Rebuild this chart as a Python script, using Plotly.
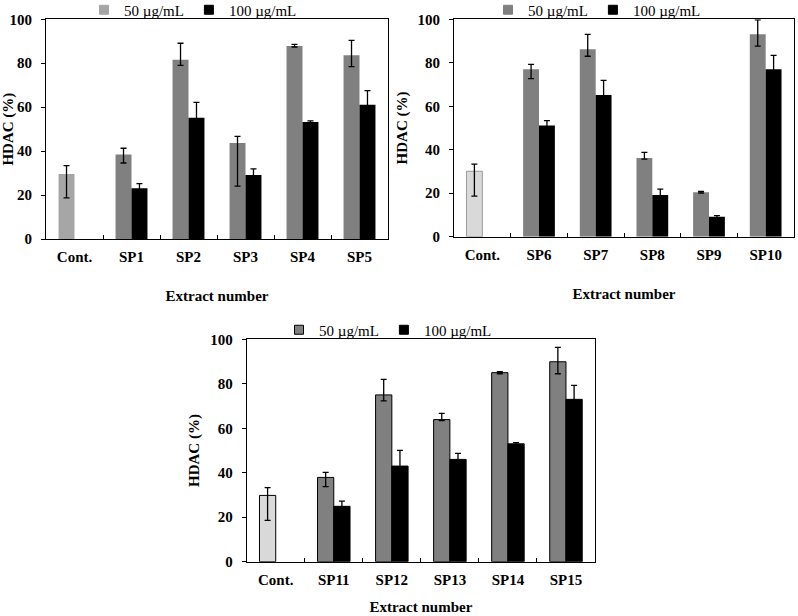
import plotly.graph_objects as go

# ---------------- data ----------------
cats1 = ["Cont.", "SP1", "SP2", "SP3", "SP4", "SP5"]
p1_50 = [29.6, 38.5, 81.6, 43.7, 87.8, 83.6]
p1_50_up = [3.8, 2.8, 7.5, 3.0, 0.8, 6.8]
p1_50_dn = [10.9, 3.9, 2.6, 19.6, 0.4, 5.1]
p1_100 = [None, 23.1, 55.2, 29.1, 53.3, 61.1]
p1_100_err = [None, 2.1, 7.0, 2.8, 0.5, 6.4]

cats2 = ["Cont.", "SP6", "SP7", "SP8", "SP9", "SP10"]
p2_50 = [30.1, 77.0, 86.2, 36.2, 20.4, 93.1]
p2_50_up = [3.3, 2.3, 6.9, 2.6, 0.4, 6.6]
p2_50_dn = [11.4, 4.3, 3.2, 0.5, 0.4, 5.4]
p2_100 = [None, 51.1, 65.2, 19.2, 9.2, 77.0]
p2_100_err = [None, 2.3, 6.7, 2.7, 0.5, 6.4]

cats3 = ["Cont.", "SP11", "SP12", "SP13", "SP14", "SP15"]
p3_50 = [29.8, 37.9, 75.0, 63.9, 85.0, 89.9]
p3_50_up = [3.5, 2.3, 7.0, 2.8, 0.4, 6.5]
p3_50_dn = [11.2, 4.1, 2.7, 0.4, 0.5, 5.4]
p3_100 = [None, 24.9, 43.0, 46.0, 53.0, 73.0]
p3_100_err = [None, 2.3, 7.1, 2.7, 0.5, 6.3]

series_names = ["50 µg/mL", "100 µg/mL"]
y_ticks = [0, 20, 40, 60, 80, 100]

W, H = 798, 616
SERIF = "Liberation Serif"

panels = [
    dict(cats=cats1, v50=p1_50, up=p1_50_up, dn=p1_50_dn, v100=p1_100, e100=p1_100_err,
         dom_px=(46, 388, 19.3, 239.0), cont_fill="#a6a6a6", cont_line="#a6a6a6",
         bar_line="rgba(0,0,0,0)", sw50="#a6a6a6", sw_line="#a6a6a6",
         leg=(84, 10), xstand=26),
    dict(cats=cats2, v50=p2_50, up=p2_50_up, dn=p2_50_dn, v100=p2_100, e100=p2_100_err,
         dom_px=(454, 794, 19.3, 236.7), cont_fill="#d9d9d9", cont_line="#9a9a9a",
         bar_line="rgba(0,0,0,0)", sw50="#808080", sw_line="#808080",
         leg=(488, 10), xstand=26),
    dict(cats=cats3, v50=p3_50, up=p3_50_up, dn=p3_50_dn, v100=p3_100, e100=p3_100_err,
         dom_px=(246.7, 595, 339.3, 561.7), cont_fill="#d9d9d9", cont_line="#000000",
         bar_line="#000000", sw50="#808080", sw_line="#000000",
         leg=(279, 330), xstand=14),
]

fig = go.Figure()
layout = dict(
    width=W, height=H, margin=dict(l=0, r=0, t=0, b=0, autoexpand=False),
    paper_bgcolor="white", plot_bgcolor="white",
    barmode="group", bargap=0.44, bargroupgap=0.0,
    font=dict(family=SERIF, size=14, color="black"),
)

for i, p in enumerate(panels):
    k = "" if i == 0 else str(i + 1)
    xa, ya = "x" + k, "y" + k
    legname = "legend" + k
    n = len(p["cats"])
    fill50 = [p["cont_fill"]] + ["#808080"] * (n - 1)
    line50 = [p["cont_line"]] + [p["bar_line"]] * (n - 1)
    if i == 0:
        lw50 = [0] * n
    elif i == 1:
        lw50 = [1] + [0] * (n - 1)
    else:
        lw50 = [1] * n
    fig.add_trace(go.Bar(
        x=p["cats"], y=p["v50"], name=series_names[0], xaxis=xa, yaxis=ya,
        showlegend=False,
        marker=dict(color=fill50, line=dict(color=line50, width=lw50)),
        error_y=dict(type="data", symmetric=False, array=p["up"], arrayminus=p["dn"],
                     color="black", thickness=1.3, width=3),
    ))
    fig.add_trace(go.Bar(
        x=p["cats"], y=p["v100"], name=series_names[1], xaxis=xa, yaxis=ya,
        showlegend=False,
        marker=dict(color="#000000", line=dict(color="#000000", width=1 if i == 2 else 0)),
        error_y=dict(type="data", array=p["e100"], color="black", thickness=1.3, width=3),
    ))
    # legend entries
    fig.add_trace(go.Scatter(
        x=[None], y=[None], mode="markers", name=series_names[0], xaxis=xa, yaxis=ya,
        legend=legname,
        marker=dict(symbol="square", size=9, color=p["sw50"], line=dict(color=p["sw_line"], width=1)),
    ))
    fig.add_trace(go.Scatter(
        x=[None], y=[None], mode="markers", name=series_names[1], xaxis=xa, yaxis=ya,
        legend=legname,
        marker=dict(symbol="square", size=9, color="#000000", line=dict(color="#000000", width=1)),
    ))

    x0, x1, y0, y1 = p["dom_px"]
    layout["xaxis" + k] = dict(
        domain=[x0 / W, x1 / W], anchor=ya, type="category",
        categoryorder="array", categoryarray=p["cats"],
        showline=True, linecolor="black", linewidth=1, mirror=True,
        ticks="inside", ticklen=4, tickcolor="black", tickson="boundaries",
        tickfont=dict(family=SERIF, size=15, color="black", weight="bold"),
        ticklabelstandoff=4,
        title=dict(text="Extract number", font=dict(family=SERIF, size=15, weight="bold"),
                   standoff=p["xstand"]),
        showgrid=False, zeroline=False, automargin=False, fixedrange=True,
    )
    layout["yaxis" + k] = dict(
        domain=[1 - y1 / H, 1 - y0 / H], anchor=xa, range=[0, 100],
        tickmode="array", tickvals=y_ticks,
        showline=True, linecolor="black", linewidth=1, mirror=True,
        ticks="outside", ticklen=4, tickcolor="black",
        tickfont=dict(family=SERIF, size=15, color="black", weight="bold"),
        ticklabelstandoff=6,
        title=dict(text="HDAC (%)", font=dict(family=SERIF, size=15, weight="bold"),
                   standoff=6),
        showgrid=False, zeroline=False, automargin=False, fixedrange=True,
    )
    lx, ly = p["leg"]
    layout[legname] = dict(
        x=lx / W, y=1 - ly / H, xanchor="left", yanchor="middle",
        orientation="h", font=dict(family=SERIF, size=15, color="black"),
        bgcolor="rgba(0,0,0,0)", borderwidth=0, itemwidth=30,
        tracegroupgap=0, itemclick=False, itemdoubleclick=False,
    )

fig.update_layout(**layout)
fig.write_html("out.html", config={"displayModeBar": False},
               post_script="document.body.style.margin='0';document.body.style.overflow='hidden';")
